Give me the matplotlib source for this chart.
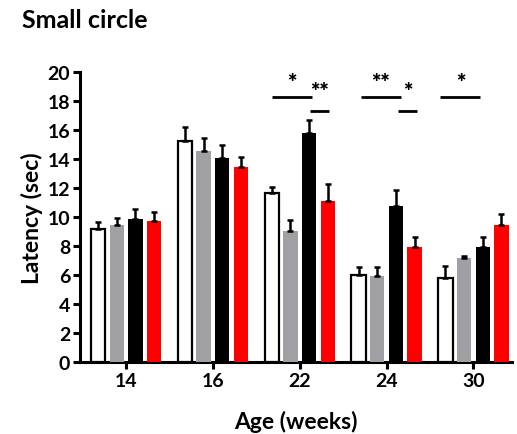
#!/usr/bin/env python3
"""Small circle latency bar chart."""

import matplotlib

matplotlib.use('Agg')
from matplotlib import pyplot as plt  # noqa: E402
import numpy as np  # noqa: E402

AGES = ['14', '16', '22', '24', '30']
WHITE = [9.2, 15.25, 11.65, 6.0, 5.8]
WHITE_ERR = [0.5, 0.95, 0.45, 0.6, 0.85]
GRAY = [9.45, 14.55, 9.05, 5.95, 7.2]
GRAY_ERR = [0.5, 0.95, 0.75, 0.65, 0.1]
BLACK = [9.9, 14.1, 15.8, 10.8, 7.95]
BLACK_ERR = [0.7, 0.9, 0.9, 1.05, 0.7]
RED = [9.75, 13.45, 11.1, 7.95, 9.45]
RED_ERR = [0.65, 0.7, 1.2, 0.7, 0.75]

# significance brackets: group index, start offset, end offset, height, label
SIG_GROUP = [2, 2, 3, 3, 4]
SIG_START = [-0.32, 0.12, -0.30, 0.13, -0.38]
SIG_END = [0.14, 0.335, 0.165, 0.35, 0.08]
SIG_Y = [18.3, 17.3, 18.3, 17.3, 18.3]
SIG_TEXT_Y = [18.55, 17.95, 18.55, 17.95, 18.55]
SIG_LABEL = ['*', '**', '**', '*', '*']


def main() -> None:
    plt.rcParams.update({
        'font.family': ['Lato', 'DejaVu Sans'],
        'font.weight': 'bold',
        'axes.linewidth': 2.2,
    })
    figure = plt.figure(figsize=(5.17, 4.35), dpi=100)
    axis = figure.add_axes([0.1547, 0.1648, 0.835, 0.6667])

    x = np.arange(len(AGES))
    pitch = 0.215
    width = 0.165
    series = [
        (WHITE, WHITE_ERR, 'white', 'black', 1.6),
        (GRAY, GRAY_ERR, '#a0a0a4', '#a0a0a4', 0.0),
        (BLACK, BLACK_ERR, 'black', 'black', 0.0),
        (RED, RED_ERR, '#ff0000', '#ff0000', 0.0),
    ]
    for i, (values, errors, face, edge, lw) in enumerate(series):
        offset = (i - 1.5) * pitch
        errors = np.asarray(errors)
        axis.bar(
            x + offset,
            values,
            width=width,
            color=face,
            edgecolor=edge,
            linewidth=lw,
            yerr=[np.zeros_like(errors), errors],
            error_kw={'ecolor': 'black', 'elinewidth': 1.8, 'capsize': 2.5, 'capthick': 1.8},
            zorder=3,
        )

    for group, start, end, height, text_y, label in zip(
            SIG_GROUP, SIG_START, SIG_END, SIG_Y, SIG_TEXT_Y, SIG_LABEL):
        axis.plot([group + start, group + end], [height, height], color='black', linewidth=2.0,
                  clip_on=False, solid_capstyle='butt')
        axis.text(group + (start + end) / 2, text_y, label, ha='center', va='bottom',
                  fontsize=16, fontweight='heavy')

    axis.set_xlim(-0.53, 4.44)
    axis.set_ylim(0, 20)
    axis.set_yticks(np.arange(0, 21, 2))
    axis.set_xticks(x)
    axis.set_xticklabels(AGES)
    axis.spines['top'].set_visible(False)
    axis.spines['right'].set_visible(False)
    axis.tick_params(axis='both', direction='out', length=5, width=2.2, labelsize=14, pad=2)
    axis.set_ylabel('Latency (sec)', fontsize=16.5, fontweight='bold', labelpad=3)
    axis.set_xlabel('Age (weeks)', fontsize=16.5, fontweight='bold', labelpad=15)

    figure.text(0.043, 0.953, 'Small circle', fontsize=18, fontweight='bold', ha='left', va='center')

    figure.savefig('out.png', dpi=100)
    plt.close(figure)


if __name__ == '__main__':
    main()
